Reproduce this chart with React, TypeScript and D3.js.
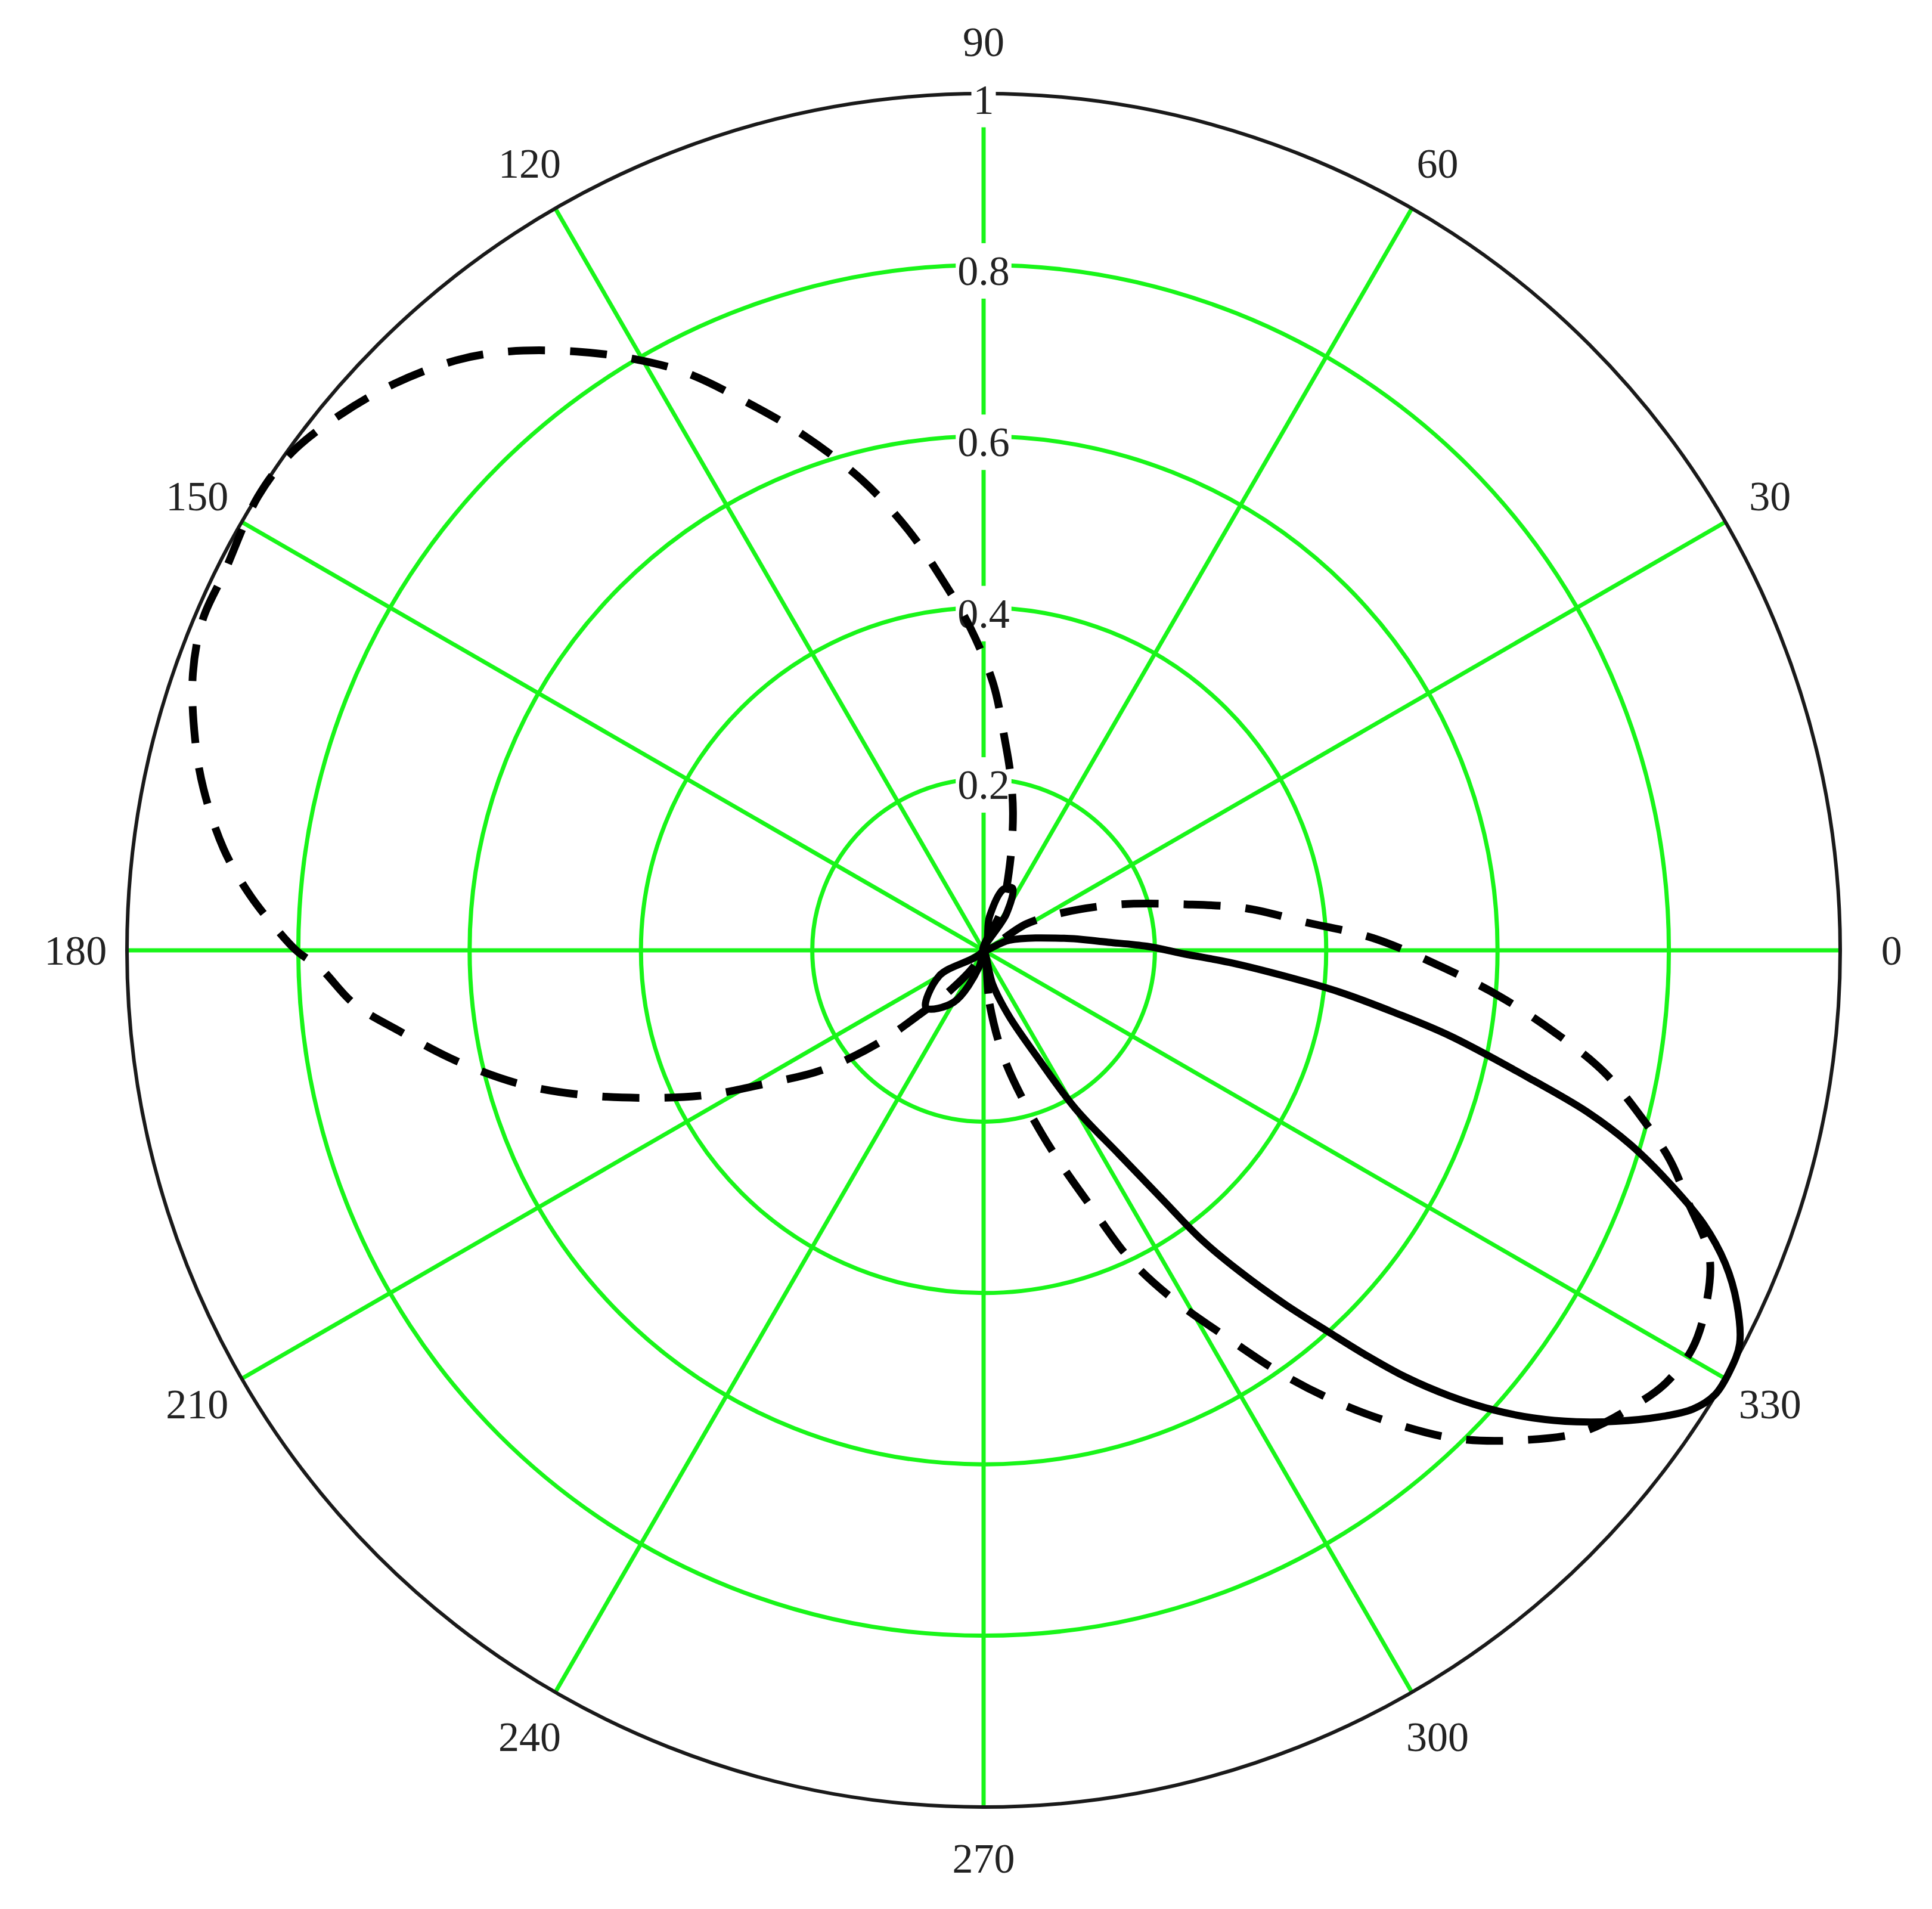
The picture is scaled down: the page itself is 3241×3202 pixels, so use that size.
import React, { useEffect, useRef } from "react";
import * as d3 from "d3";

// angle ticks (deg) and radius ticks
const angleTicks = [0, 30, 60, 90, 120, 150, 180, 210, 240, 270, 300, 330];
const ringTicks = [0.2, 0.4, 0.6, 0.8];
const radiusLabels = [0.2, 0.4, 0.6, 0.8, 1];

// solid pattern: angle (deg, ccw from 0) and magnitude
const solidAngles = [
  -80, -75, -68.9, -63.4, -59.9, -56.4, -54.3, -53, -51.4, -49.6,
  -47.9, -46.6, -45.3, -43.7, -42, -40.4, -38.5, -36.7, -34.6, -32.9,
  -31.3, -29.4, -27.5, -25.1, -22.9, -20.8, -18.8, -16.7, -15, -13.3,
  -10.4, -8.6, -6.7, -4.9, -2.8, -1.1, 1.4, 3.7, 8.5, 21.5,
  40, 58, 65, 72, 80, 120, 210, 225, 240, 255,
];
const solidValues = [
  0, 0.041, 0.082, 0.138, 0.213, 0.286, 0.359, 0.423, 0.48, 0.542,
  0.6, 0.651, 0.701, 0.753, 0.802, 0.842, 0.884, 0.92, 0.959, 0.986,
  0.999, 1.0, 0.995, 0.971, 0.94, 0.899, 0.847, 0.788, 0.73, 0.659,
  0.554, 0.485, 0.419, 0.353, 0.287, 0.236, 0.191, 0.146, 0.095, 0.032,
  0, 0.05, 0.08, 0.075, 0.04, 0, 0.06, 0.095, 0.07, 0.02,
];

// dashed pattern
const dashedAngles = [
  -88, -83.6, -79.4, -74.8, -71, -67.2, -64.6, -61.4, -57.7, -54.7,
  -51.8, -49, -46, -42.6, -38.8, -34.7, -32.4, -29.3, -26, -22.8,
  -19.5, -17, -14.4, -11.1, -8.2, -5.1, -2.2, 1.8, 4.9, 9.1,
  12.8, 18.7, 25.2, 31.8,
  50, 66, 73, 78, 81.5, 84.3,
  87.9, 92.3, 96.4, 100.2, 104.5, 109.2, 113.3, 117.3, 120.6, 124.2,
  128.4, 131.7, 136.1, 140.4, 144.3, 148, 153.6, 157, 160.7, 165,
  168.3, 172.4, 175.6, 178.1, 180.1, 181.5, 184.9, 187.9, 191.9, 196.1,
  199.8, 203.9, 207.7, 211.4, 216.5, 221.4, 225, 229.7, 240,
];
const dashedValues = [
  0, 0.063, 0.126, 0.186, 0.249, 0.326, 0.4, 0.465, 0.537, 0.608,
  0.673, 0.732, 0.792, 0.845, 0.897, 0.929, 0.943, 0.949, 0.939, 0.919,
  0.871, 0.838, 0.795, 0.738, 0.674, 0.605, 0.538, 0.455, 0.379, 0.31,
  0.242, 0.167, 0.104, 0.058,
  0, 0.05, 0.105, 0.165, 0.21, 0.248,
  0.311, 0.376, 0.436, 0.499, 0.567, 0.636, 0.696, 0.759, 0.802, 0.845,
  0.892, 0.923, 0.954, 0.978, 0.995, 0.999, 0.99, 0.99, 0.978, 0.953,
  0.93, 0.895, 0.86, 0.828, 0.801, 0.775, 0.737, 0.688, 0.628, 0.563,
  0.498, 0.425, 0.363, 0.299, 0.235, 0.163, 0.106, 0.065, 0.02,
];

const W = 3241;
const H = 3202;
const cx = 1650;
const cy = 1594;
const R = 1437;

const GREEN = "#19f519";
const FONT = "'Liberation Serif', 'Times New Roman', serif";

export default function App() {
  const ref = useRef<SVGSVGElement>(null);

  useEffect(() => {
    const svg = d3.select(ref.current);
    svg.selectAll("*").remove();

    const g = svg.append("g").attr("transform", `translate(${cx},${cy})`);
    const r = d3.scaleLinear().domain([0, 1]).range([0, R]);
    // math angle (deg, ccw from east) -> d3 radial angle (rad, cw from north)
    const ang = (deg: number) => ((90 - deg) * Math.PI) / 180;
    const rad = (deg: number) => (deg * Math.PI) / 180;

    // grid rings
    g.selectAll(".ring")
      .data(ringTicks)
      .join("circle")
      .attr("class", "ring")
      .attr("r", (d) => r(d))
      .attr("fill", "none")
      .attr("stroke", GREEN)
      .attr("stroke-width", 7);

    // spokes
    g.selectAll(".spoke")
      .data(angleTicks)
      .join("line")
      .attr("class", "spoke")
      .attr("x1", 0)
      .attr("y1", 0)
      .attr("x2", (d) => r(1) * Math.cos(rad(d)))
      .attr("y2", (d) => -r(1) * Math.sin(rad(d)))
      .attr("stroke", GREEN)
      .attr("stroke-width", 7);

    // outer circle
    g.append("circle")
      .attr("r", r(1))
      .attr("fill", "none")
      .attr("stroke", "#1a1a1a")
      .attr("stroke-width", 6);

    // radius labels along the 90 deg axis, with white boxes
    const rl = g.selectAll(".rlab").data(radiusLabels).join("g").attr("class", "rlab");
    rl.each(function (d) {
      const grp = d3.select(this);
      const t = grp
        .append("text")
        .attr("x", 0)
        .attr("y", -r(d) + 10)
        .attr("text-anchor", "middle")
        .attr("dominant-baseline", "central")
        .attr("font-family", FONT)
        .attr("font-size", 70)
        .attr("fill", "#222")
        .text(String(d));
      const bb = (t.node() as SVGTextElement).getBBox();
      grp
        .insert("rect", "text")
        .attr("x", bb.x - 3)
        .attr("y", bb.y - 8)
        .attr("width", bb.width + 6)
        .attr("height", bb.height + 16)
        .attr("fill", "#fff");
    });

    // angle labels
    g.selectAll(".alab")
      .data(angleTicks)
      .join("text")
      .attr("class", "alab")
      .attr("x", (d) => r(1.06) * Math.cos(rad(d)))
      .attr("y", (d) => -r(1.06) * Math.sin(rad(d)))
      .attr("text-anchor", "middle")
      .attr("dominant-baseline", "central")
      .attr("font-family", FONT)
      .attr("font-size", 70)
      .attr("fill", "#222")
      .text((d) => String(d));

    const line = d3
      .lineRadial<[number, number]>()
      .angle((d) => ang(d[0]))
      .radius((d) => r(d[1]))
      .curve(d3.curveCatmullRomClosed.alpha(0.5));

    const dashed = d3.zip(dashedAngles, dashedValues) as [number, number][];
    const solid = d3.zip(solidAngles, solidValues) as [number, number][];

    g.append("path")
      .datum(dashed)
      .attr("d", line)
      .attr("fill", "none")
      .attr("stroke", "#000")
      .attr("stroke-width", 13)
      .attr("stroke-dasharray", "62 42");

    g.append("path")
      .datum(solid)
      .attr("d", line)
      .attr("fill", "none")
      .attr("stroke", "#000")
      .attr("stroke-width", 12)
      .attr("stroke-linejoin", "round");
  }, []);

  return (
    <svg
      ref={ref}
      width={W}
      height={H}
      style={{ position: "absolute", left: 0, top: 0, background: "#fff" }}
    />
  );
}
